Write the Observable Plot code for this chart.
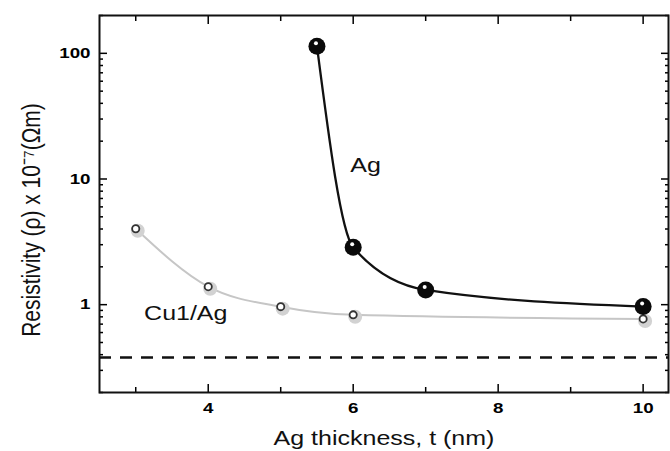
<!DOCTYPE html>
<html>
<head>
<meta charset="utf-8">
<script src="https://cdn.jsdelivr.net/npm/d3@7"></script>
<script src="https://cdn.jsdelivr.net/npm/@observablehq/plot@0.6"></script>
<style>
  html, body { margin: 0; padding: 0; background: #fff; }
</style>
</head>
<body>
<div id="chart"></div>
<script>
// --- data ---
const agThickness = [5.5, 6, 7, 10];
const agResistivity = [114, 2.86, 1.31, 0.965];
const cuThickness = [3, 4, 5, 6, 10];
const cuResistivity = [4.02, 1.39, 0.964, 0.83, 0.77];
const bulkResistivity = [0.38];
const xMajorTicks = [4, 6, 8, 10];
const xMinorTicks = [3, 5, 7, 9];
const yMajorTicks = [1, 10, 100];
const yMinorTicks = [0.2, 0.3, 0.4, 0.5, 0.6, 0.7, 0.8, 0.9, 2, 3, 4, 5, 6, 7, 8, 9, 20, 30, 40, 50, 60, 70, 80, 90, 200];
const seriesLabels = [
  {name: "Ag", t: 6.17, rho: 12.8},
  {name: "Cu1/Ag", t: 3.69, rho: 0.85}
];
const xTitle = "Ag thickness, t (nm)";
const yTitle = "Resistivity (ρ) x 10⁻⁷(Ωm)";

const ag = agThickness.map((t, i) => ({t, rho: agResistivity[i]}));
const cu = cuThickness.map((t, i) => ({t, rho: cuResistivity[i]}));

const blank = () => "";
const chart = Plot.plot({
  width: 670,
  height: 451,
  marginLeft: 99,
  marginRight: 2,
  marginTop: 15,
  marginBottom: 59,
  style: {fontFamily: "'Liberation Sans', Arial, sans-serif", background: "#fff", color: "#000"},
  x: {domain: [2.5, 10.35]},
  y: {type: "log", domain: [0.2, 200]},
  marks: [
    // axes: inward ticks on all four sides
    Plot.axisX(xMajorTicks, {anchor: "bottom", tickSize: -8, tickFormat: blank, label: null, strokeWidth: 1.5}),
    Plot.axisX(xMinorTicks, {anchor: "bottom", tickSize: -5, tickFormat: blank, label: null, strokeWidth: 1.5}),
    Plot.axisX(xMajorTicks, {anchor: "top", tickSize: -8, tickFormat: blank, label: null, strokeWidth: 1.5}),
    Plot.axisX(xMinorTicks, {anchor: "top", tickSize: -5, tickFormat: blank, label: null, strokeWidth: 1.5}),
    Plot.axisX(xMajorTicks, {anchor: "bottom", tickSize: 0, tickPadding: 10, label: null, fontSize: 15, fontWeight: "bold"}),
    Plot.axisY(yMajorTicks, {anchor: "left", tickSize: -8, tickFormat: blank, label: null, strokeWidth: 1.5}),
    Plot.axisY(yMinorTicks, {anchor: "left", tickSize: -4, tickFormat: blank, label: null, strokeWidth: 1.5}),
    Plot.axisY(yMajorTicks, {anchor: "right", tickSize: -8, tickFormat: blank, label: null, strokeWidth: 1.5}),
    Plot.axisY(yMinorTicks, {anchor: "right", tickSize: -4, tickFormat: blank, label: null, strokeWidth: 1.5}),
    Plot.axisY(yMajorTicks, {anchor: "left", tickSize: 0, tickPadding: 9, label: null, fontSize: 15, fontWeight: "bold", tickFormat: d => String(d)}),
    Plot.frame({stroke: "#111", strokeWidth: 2}),
    // bulk reference line
    Plot.ruleY(bulkResistivity, {stroke: "#111", strokeWidth: 2.5, strokeDasharray: "12,9"}),
    // series lines
    Plot.line(cu, {x: "t", y: "rho", curve: "monotone-x", stroke: "#c6c6c6", strokeWidth: 2}),
    Plot.line(ag, {x: "t", y: "rho", curve: "monotone-x", stroke: "#111", strokeWidth: 2.3}),
    // Cu1/Ag markers
    Plot.dot(cu, {x: "t", y: "rho", r: 7, fill: "#d2d2d2", dx: 2, dy: 2}),
    Plot.dot(cu, {x: "t", y: "rho", r: 3.6, fill: "#fff", stroke: "#333", strokeWidth: 1.8}),
    // Ag markers
    Plot.dot(ag, {x: "t", y: "rho", r: 8.5, fill: "#0a0a0a"}),
    Plot.dot(ag, {x: "t", y: "rho", r: 2, fill: "#fff", dx: -1, dy: -3}),
    // series labels
    Plot.text(seriesLabels, {x: "t", y: "rho", text: "name", fontSize: 20, fill: "#111"}),
    // axis titles
    Plot.text([xTitle], {frameAnchor: "bottom", textAnchor: "middle", lineAnchor: "middle", dy: 46, fontSize: 20, fill: "#111"}),
    Plot.text([yTitle], {frameAnchor: "left", textAnchor: "middle", lineAnchor: "middle", dx: -68, dy: 16, rotate: -90, fontSize: 21, fill: "#111"})
  ]
});

// the reference artwork is stretched horizontally: widen glyphs about their anchor
d3.select(chart).selectAll("text").each(function() {
  const el = d3.select(this);
  let tr = el.attr("transform");
  if (!tr) {
    const x = +el.attr("x") || 0, y = +el.attr("y") || 0;
    el.attr("x", null).attr("y", null);
    tr = `translate(${x},${y})`;
  }
  const rotated = /rotate/.test(tr);
  el.attr("transform", tr + (rotated ? " scale(1,1.25)" : " scale(1.25,1)"));
});

document.getElementById("chart").appendChild(chart);
</script>
</body>
</html>
